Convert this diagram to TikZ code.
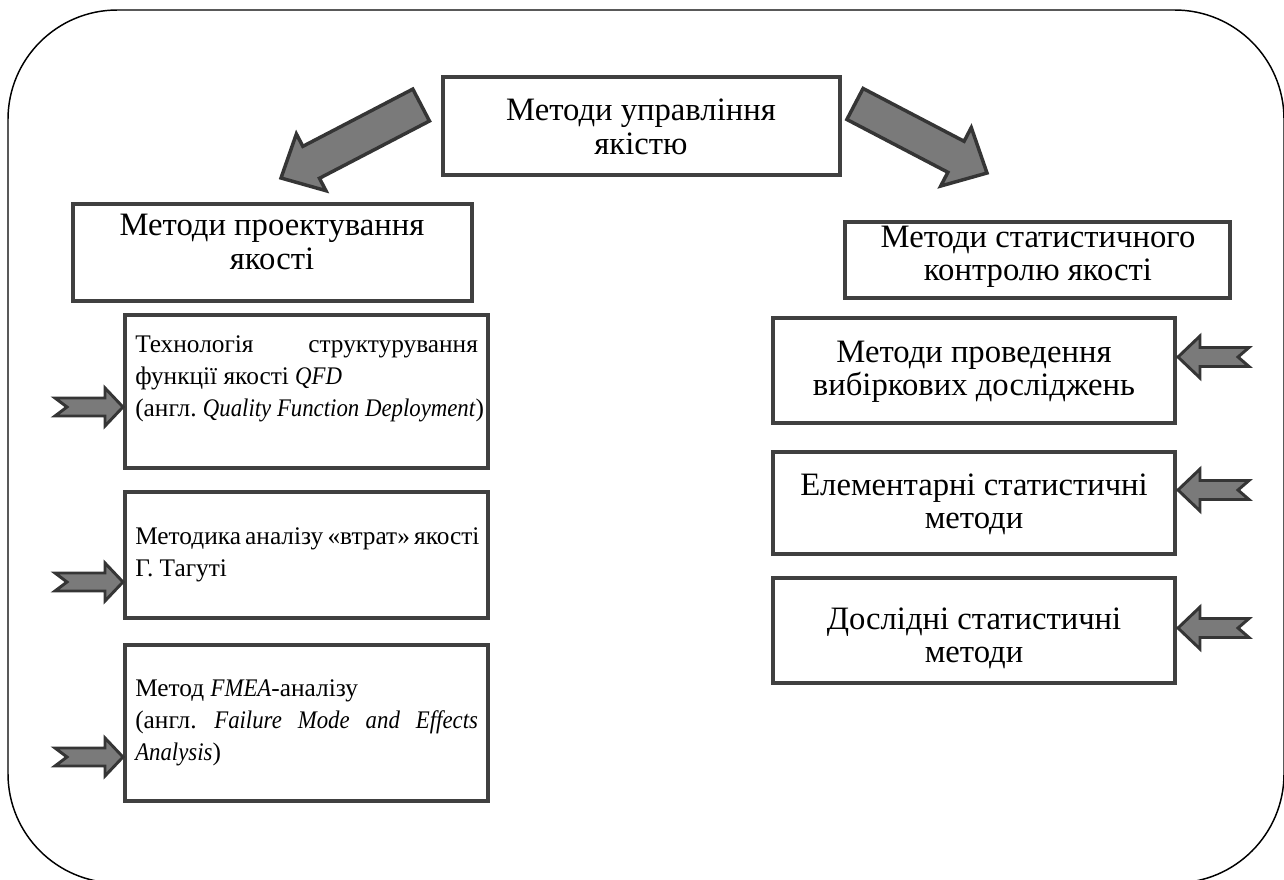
\documentclass[tikz,border=0pt]{standalone}
\usepackage{fontspec}
\setmainfont{Liberation Serif}[ItalicFeatures={FakeStretch=0.9}]
\usetikzlibrary{fit,calc}
\definecolor{boxline}{HTML}{404040}
\definecolor{arrfill}{HTML}{7A7A7A}
\definecolor{arrline}{HTML}{353535}
\frenchspacing
\newlength\jw
\setlength\jw{257pt}
\newcommand\jline[1]{\hbox to \jw{#1}}
\begin{document}
\begin{tikzpicture}[x=0.75pt,y=-0.75pt,
  box/.style={draw=boxline,line width=2.8pt,inner sep=0pt,rectangle},
  txt/.style={inner sep=0pt,font=\fontsize{19}{24}\selectfont},
  txtbig/.style={inner sep=0pt,align=center,font=\fontsize{24.5}{25}\selectfont},
  bigarrow/.style={draw=arrline,fill=arrfill,line width=2.6pt,line join=miter},
  smallarrow/.style={draw=arrline,fill=arrfill,line width=2.2pt,line join=miter}]
\useasboundingbox (0,0) rectangle (1284,879);
\begin{scope}
\clip (0,0) rectangle (1284,879);
\node[draw=black,line width=1.1pt,rounded corners=82pt,inner sep=0pt,fit={(8,10) (1284,883)}] (outer) {};
\end{scope}

% boxes
\node[box,fit={(443,77) (840,175)}] (top) {};
\node[box,fit={(73,204) (472,301)}] (proj) {};
\node[box,fit={(845,222) (1230,298)}] (stat) {};
\node[box,fit={(125,315) (488,468)}] (qfd) {};
\node[box,fit={(125,492) (488,618)}] (tag) {};
\node[box,fit={(125,645) (488,801)}] (fmea) {};
\node[box,fit={(773,318) (1175,423)}] (r1) {};
\node[box,fit={(773,452) (1175,554)}] (r2) {};
\node[box,fit={(773,578) (1175,683)}] (r3) {};

% texts
\node[txtbig] (topt) at (641,127) {Методи управління\\якістю};
\node[txtbig] (projt) at (272,242) {Методи проектування\\якості};
\node[txtbig] (statt) at (1038,257) {Методи статистичного\\контролю якості};
\node[txt,align=left,anchor=north west] (qfdt) at (135,335) {\jline{Технологія структурування}\\функції якості \textit{QFD}\\(англ. \textit{Quality Function Deployment})};
\node[txt,align=left,anchor=north west] (tagt) at (135,527) {\jline{Методика аналізу «втрат» якості}\\Г. Тагуті};
\node[txt,align=left,anchor=north west] (fmeat) at (135,679) {Метод \textit{FMEA}-аналізу\\\jline{(англ. \textit{Failure Mode and Effects}}\\\textit{Analysis})};
\node[txtbig] (r1t) at (974,372) {Методи проведення\\вибіркових досліджень};
\node[txtbig] (r2t) at (974,504) {Елементарні статистичні\\методи};
\node[txtbig] (r3t) at (974,638) {Дослідні статистичні\\методи};

% big arrows
\coordinate (tipL) at (281,178);
\coordinate (tipR) at (987,173);
\draw[bigarrow,shift={(tipL)},rotate=207.5] (0,0) -- (-34,-32) -- (-34,-18) -- (-158,-18) -- (-158,18) -- (-34,18) -- (-34,32) -- cycle;
\draw[bigarrow,shift={(tipR)},rotate=-27.6] (0,0) -- (-35,-33) -- (-35,-17.5) -- (-149,-17.5) -- (-149,17.5) -- (-35,17.5) -- (-35,33) -- cycle;

% small arrows (left, pointing right)
\foreach \yy/\nm in {407/a1,582/a2,757/a3}{
  \coordinate (\nm) at (123,\yy);
  \draw[smallarrow,shift={(\nm)}] (0,0) -- (-18,-19) -- (-18,-9) -- (-68,-9) -- (-56,0) -- (-68,9) -- (-18,9) -- (-18,19) -- cycle;
}
% small arrows (right, pointing left)
\foreach \yy/\nm in {357/b1,490/b2,628/b3}{
  \coordinate (\nm) at (1178,\yy);
  \draw[smallarrow,shift={(\nm)},rotate=180] (0,0) -- (-22,-21) -- (-22,-9.5) -- (-71,-9.5) -- (-60,0) -- (-71,9.5) -- (-22,9.5) -- (-22,21) -- cycle;
}
\end{tikzpicture}
\end{document}
